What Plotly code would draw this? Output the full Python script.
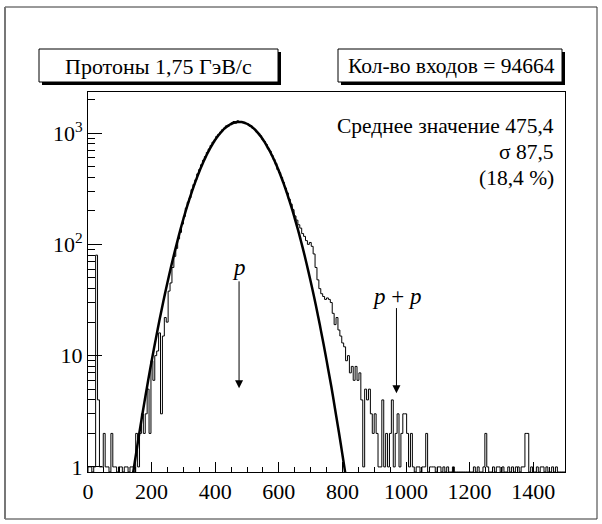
import math
import plotly.graph_objects as go

# ---------------- data ----------------
BIN_WIDTH = 6
X_START = 0
# counts per 6-unit bin from 0 to 1500 (250 bins); 0 = empty bin
counts = [
    1, 1, 0, 1, 80, 4, 1, 1, 2, 1,                # 0-60
    1, 0, 2, 1, 1, 0, 1, 1, 0, 1,                 # 60-120
    1, 0, 1, 1, 0, 2, 1, 2, 3, 2,                 # 120-180
    3, 5, 2, 9, 6, 10, 11, 16, 3, 15,             # 180-240
    22, 20, 38, 45, 62, 78, 92, 112, 128, 152,    # 240-300
    178, 212, 240, 262, 310, 345, 380, 430, 470, 520,      # 300-360
    570, 615, 670, 720, 775, 830, 870, 935, 975, 1020,     # 360-420
    1070, 1110, 1160, 1150, 1200, 1235, 1270, 1230, 1290, 1250,  # 420-480
    1265, 1240, 1215, 1220, 1170, 1160, 1100, 1080, 1020, 990,   # 480-540
    945, 880, 840, 790, 720, 690, 630, 580, 535, 470,      # 540-600
    440, 400, 360, 320, 290, 255, 230, 205, 180, 165,      # 600-660
    150, 140, 125, 118, 108, 100, 104, 96, 82, 62,         # 660-720
    48, 40, 36, 34, 32, 33, 32, 30, 24, 19,                # 720-780
    22, 17, 15, 13, 12, 9, 10, 7, 8, 6,                    # 780-840
    8, 6, 7, 4, 1, 5, 4, 5, 3, 2,                          # 840-900
    3, 2, 1, 1, 4, 1, 2, 1, 2, 4,                          # 900-960
    1, 2, 3, 1, 2, 3, 3, 2, 1, 2,                          # 960-1020
    1, 0, 1, 1, 0, 1, 1, 2, 0, 1,                          # 1020-1080
    1, 1, 0, 1, 1, 0, 1, 0, 1, 0,                          # 1080-1140
    0, 1, 0, 0, 0, 0, 0, 0, 0, 0,                          # 1140-1200
    0, 0, 1, 0, 1, 0, 0, 1, 2, 1,                          # 1200-1260
    0, 0, 1, 0, 1, 1, 0, 1, 0, 0,                          # 1260-1320
    1, 0, 1, 0, 1, 1, 0, 1, 1, 2,                          # 1320-1380
    2, 0, 1, 0, 0, 1, 0, 1, 1, 0,                          # 1380-1440
    1, 0, 0, 1, 0, 1, 0, 0, 0, 0,                          # 1440-1500
]

# Gaussian fit curve
fit_x = [141, 147, 153, 159, 165, 171, 177, 183, 189, 195, 201, 207, 213, 219, 225,
         231, 237, 243, 249, 255, 261, 267, 273, 279, 285, 291, 297, 303, 309, 315,
         321, 327, 333, 339, 345, 351, 357, 363, 369, 375, 381, 387, 393, 399, 405,
         411, 417, 423, 429, 435, 441, 447, 453, 459, 465, 471, 477, 483, 489, 495,
         501, 507, 513, 519, 525, 531, 537, 543, 549, 555, 561, 567, 573, 579, 585,
         591, 597, 603, 609, 615, 621, 627, 633, 639, 645, 651, 657, 663, 669, 675,
         681, 687, 693, 699, 705, 711, 717, 723, 729, 735, 741, 747, 753, 759, 765,
         771, 777, 783, 789, 795, 801, 807, 813]
fit_y = [0.85, 1.10, 1.42, 1.83, 2.33, 2.97, 3.76, 4.73, 5.94, 7.42, 9.22, 11.4, 14.0, 17.2, 21.0,
         25.5, 30.8, 37.0, 44.3, 52.8, 62.6, 73.9, 86.8, 101, 118, 137, 158, 181, 207, 235,
         266, 299, 335, 374, 415, 459, 504, 552, 602, 652, 704, 756, 809, 861, 912,
         961, 1008, 1053, 1095, 1133, 1166, 1195, 1219, 1238, 1251, 1258, 1260, 1255, 1245, 1229,
         1207, 1180, 1149, 1113, 1073, 1030, 983, 935, 885, 833, 781, 728, 676, 625, 575,
         526, 480, 435, 393, 353, 316, 281, 249, 219, 193, 168, 146, 127, 109, 93.4,
         79.7, 67.7, 57.2, 48.1, 40.3, 33.6, 27.9, 23.0, 18.9, 15.4, 12.6, 10.2, 8.2, 6.6, 5.3,
         4.2, 3.3, 2.6, 2.05, 1.6, 1.24, 0.96, 0.74]

x_tickvals = [0, 200, 400, 600, 800, 1000, 1200, 1400]
y_tickvals = [1, 10, 100, 1000]
y_ticktext = ["1", "10", "10<sup>2</sup>", "10<sup>3</sup>"]
y_minor = [2, 3, 4, 5, 6, 7, 8, 9, 20, 30, 40, 50, 60, 70, 80, 90,
           200, 300, 400, 500, 600, 700, 800, 900, 2000]

title_left = "Протоны 1,75 ГэВ/с"
title_right = "Кол-во входов = 94664"
stats = ["Среднее значение 475,4", "σ 87,5", "(18,4 %)"]

# annotation arrows: (label, x, text y, arrow tail y, arrow tip y)
arrows = [("p", 475, 62, 48, 5.1), ("p + p", 970, 34, 27.6, 4.6)]

Y_MIN = 0.9
Y_MAX = 2340

# ---------------- build step histogram ----------------
edges = [X_START + BIN_WIDTH * i for i in range(len(counts) + 1)]
yplot = [c if c > 0 else Y_MIN for c in counts]
hx = [X_START] + edges
hy = [Y_MIN] + yplot + [yplot[-1]]

FONT = "Liberation Serif"

fig = go.Figure()
fig.add_trace(go.Scatter(x=hx, y=hy, mode="lines", line=dict(shape="hv", color="black", width=1),
                         hoverinfo="skip", showlegend=False))
fig.add_trace(go.Scatter(x=fit_x, y=fit_y, mode="lines", line=dict(color="black", width=2.5, shape="spline"),
                         hoverinfo="skip", showlegend=False))

L, R, T, B = 88, 37, 92, 52
W, H = 602, 524
PW, PH = W - L - R, H - T - B


def px(x):
    return (x - L) / PW


def py(y):
    return (H - B - y) / PH


shapes = []
# outer canvas border
shapes.append(dict(type="rect", xref="paper", yref="paper", x0=px(5), x1=px(597), y0=py(519), y1=py(7),
                   line=dict(color="#333333", width=1), layer="below"))
shapes.append(dict(type="line", xref="paper", yref="paper", x0=px(5), x1=px(5), y0=py(519), y1=py(7),
                   line=dict(color="#777777", width=2)))
# title boxes with shadow
for (x0, x1) in [(39, 278), (338, 562)]:
    shapes.append(dict(type="rect", xref="paper", yref="paper", x0=px(x0 + 3), x1=px(x1 + 3),
                       y0=py(85), y1=py(52), fillcolor="black", line=dict(width=0)))
    shapes.append(dict(type="rect", xref="paper", yref="paper", x0=px(x0), x1=px(x1),
                       y0=py(82), y1=py(49), fillcolor="white", line=dict(color="black", width=1)))

annotations = []
annotations.append(dict(xref="paper", yref="paper", x=px(158.5), y=py(66), text=title_left, showarrow=False,
                        font=dict(family=FONT, size=22, color="black"), xanchor="center", yanchor="middle"))
annotations.append(dict(xref="paper", yref="paper", x=px(451), y=py(66), text=title_right, showarrow=False,
                        font=dict(family=FONT, size=21.5, color="black"), xanchor="center", yanchor="middle"))
for i, s in enumerate(stats):
    annotations.append(dict(xref="paper", yref="paper", x=px(556), y=py(126 + 26 * i), text=s, showarrow=False,
                            font=dict(family=FONT, size=21.5, color="black"), xanchor="right", yanchor="middle"))
for (lab, xv, ty, tail, tip) in arrows:
    lab_html = lab.replace("p", "<i>p</i>")
    annotations.append(dict(x=xv, y=math.log10(ty), xref="x", yref="y", text=lab_html, showarrow=False,
                            font=dict(family=FONT, size=23, color="black"), yanchor="middle"))
    annotations.append(dict(x=xv, y=math.log10(tip), ax=xv, ay=math.log10(tail), xref="x", yref="y",
                            axref="x", ayref="y", text="", showarrow=True, arrowhead=2, arrowsize=1.6,
                            arrowwidth=1, arrowcolor="black"))

fig.update_layout(
    width=W, height=H,
    margin=dict(l=L, r=R, t=T, b=B),
    paper_bgcolor="white", plot_bgcolor="white",
    font=dict(family=FONT, size=22, color="black"),
    shapes=shapes, annotations=annotations,
    showlegend=False,
)
fig.update_xaxes(range=[0, 1500], tickmode="array", tickvals=x_tickvals, ticks="inside", ticklen=10,
                 tickcolor="black", tickwidth=1, showline=True, linecolor="black", linewidth=1, mirror=True,
                 showgrid=False, zeroline=False, tickfont=dict(family=FONT, size=22, color="black"),
                 minor=dict(ticks="inside", ticklen=5, dtick=50, tickcolor="black", showgrid=False))
fig.update_yaxes(type="log", range=[math.log10(Y_MIN), math.log10(Y_MAX)], tickmode="array",
                 tickvals=y_tickvals, ticktext=y_ticktext, ticks="inside", ticklen=14, tickcolor="black",
                 tickwidth=1, showline=True, linecolor="black", linewidth=1, mirror=True, showgrid=False,
                 zeroline=False, tickfont=dict(family=FONT, size=22, color="black"),
                 minor=dict(ticks="inside", ticklen=7, tickmode="array", tickvals=y_minor,
                            tickcolor="black", showgrid=False))

fig.write_html("out.html", config={"displayModeBar": False},
               post_script="document.body.style.margin='0';")
